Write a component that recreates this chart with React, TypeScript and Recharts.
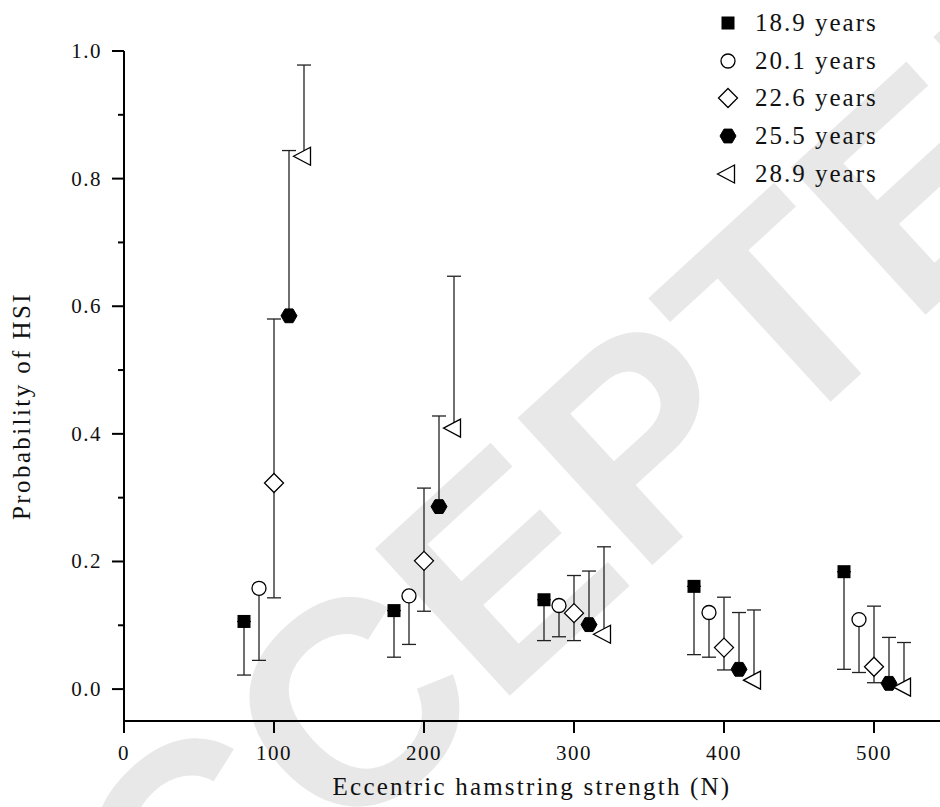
import React from 'react';
import { ScatterChart, Scatter, XAxis, YAxis, ErrorBar, Label, Legend } from 'recharts';

// ---- data ----
const seriesNames = ['18.9 years', '20.1 years', '22.6 years', '25.5 years', '28.9 years'];

const x189 = [80, 180, 280, 380, 480];
const y189 = [0.106, 0.123, 0.140, 0.161, 0.184];
const lo189 = [0.022, 0.050, 0.076, 0.054, 0.031];
const hi189 = [0.106, 0.123, 0.140, 0.161, 0.184];

const x201 = [90, 190, 290, 390, 490];
const y201 = [0.158, 0.146, 0.131, 0.120, 0.109];
const lo201 = [0.045, 0.070, 0.082, 0.050, 0.026];
const hi201 = [0.158, 0.146, 0.131, 0.120, 0.109];

const x226 = [100, 200, 300, 400, 500];
const y226 = [0.323, 0.201, 0.119, 0.065, 0.035];
const lo226 = [0.143, 0.122, 0.076, 0.030, 0.010];
const hi226 = [0.580, 0.315, 0.178, 0.144, 0.130];

const x255 = [110, 210, 310, 410, 510];
const y255 = [0.585, 0.286, 0.101, 0.031, 0.009];
const lo255 = [0.585, 0.286, 0.101, 0.031, 0.009];
const hi255 = [0.844, 0.428, 0.185, 0.120, 0.081];

const x289 = [120, 220, 320, 420, 520];
const y289 = [0.835, 0.409, 0.086, 0.014, 0.003];
const lo289 = [0.835, 0.409, 0.086, 0.014, 0.003];
const hi289 = [0.978, 0.647, 0.223, 0.124, 0.073];

const xTicks = [0, 100, 200, 300, 400, 500];
const yTicks = [0, 0.1, 0.2, 0.3, 0.4, 0.5, 0.6, 0.7, 0.8, 0.9, 1.0];

type Pt = { x: number; y: number; err: [number, number] };
const build = (xs: number[], ys: number[], lo: number[], hi: number[]): Pt[] =>
  xs.map((x, i) => ({ x, y: ys[i], err: [ys[i] - lo[i], hi[i] - ys[i]] as [number, number] }));

const d189 = build(x189, y189, lo189, hi189);
const d201 = build(x201, y201, lo201, hi201);
const d226 = build(x226, y226, lo226, hi226);
const d255 = build(x255, y255, lo255, hi255);
const d289 = build(x289, y289, lo289, hi289);

const FONT = '"Liberation Serif", "Times New Roman", serif';

// ---- marker shapes ----
const SquareShape = (p: any) => (
  <rect x={p.cx - 6.5} y={p.cy - 6.5} width={13} height={13} fill="#000" />
);
const CircleShape = (p: any) => (
  <circle cx={p.cx} cy={p.cy} r={7} fill="#fff" stroke="#000" strokeWidth={1.3} />
);
const DiamondShape = (p: any) => {
  const { cx, cy } = p;
  const r = 9.5;
  return (
    <polygon
      points={`${cx},${cy - r} ${cx + r},${cy} ${cx},${cy + r} ${cx - r},${cy}`}
      fill="#fff"
      stroke="#000"
      strokeWidth={1.3}
    />
  );
};
const HexShape = (p: any) => {
  const { cx, cy } = p;
  const r = 8;
  const h = 6.9;
  return (
    <polygon
      points={`${cx - r},${cy} ${cx - r / 2},${cy - h} ${cx + r / 2},${cy - h} ${cx + r},${cy} ${cx + r / 2},${cy + h} ${cx - r / 2},${cy + h}`}
      fill="#000"
      stroke="#000"
      strokeWidth={1}
    />
  );
};
const TriShape = (p: any) => {
  const { cx, cy } = p;
  return (
    <polygon
      points={`${cx - 10.5},${cy} ${cx + 6.5},${cy - 9} ${cx + 6.5},${cy + 9}`}
      fill="#fff"
      stroke="#000"
      strokeWidth={1.3}
    />
  );
};

const shapes = [SquareShape, CircleShape, DiamondShape, HexShape, TriShape];

const YTick = (props: any) => {
  const { x, y, payload } = props;
  const v = payload.value as number;
  const major = Math.round(v * 10) % 2 === 0;
  const axisX = x + 16;
  return (
    <g>
      <line x1={axisX - (major ? 12 : 6)} y1={y} x2={axisX} y2={y} stroke="#000" strokeWidth={2} />
      {major && (
        <text
          x={axisX - 22}
          y={y}
          textAnchor="end"
          dominantBaseline="central"
          fontFamily={FONT}
          fontSize={21}
          letterSpacing={1.5}
          fill="#111"
        >
          {v.toFixed(1)}
        </text>
      )}
    </g>
  );
};

const XTick = (props: any) => {
  const { x, y, payload } = props;
  return (
    <text
      x={x}
      y={y}
      dy="0.71em"
      textAnchor="middle"
      fontFamily={FONT}
      fontSize={21}
      letterSpacing={1.5}
      fill="#111"
    >
      {payload.value}
    </text>
  );
};

const LegendContent = () => (
  <div style={{ fontFamily: FONT, fontSize: 25, letterSpacing: 2, color: '#111' }}>
    {seriesNames.map((name, i) => {
      const Shape = shapes[i];
      return (
        <div key={name} style={{ display: 'flex', alignItems: 'center', height: 37.8 }}>
          <svg width={30} height={30} style={{ display: 'block' }}>
            <Shape cx={15} cy={15} />
          </svg>
          <span style={{ marginLeft: 12, lineHeight: '30px' }}>{name}</span>
        </div>
      );
    })}
  </div>
);

const wmLetters = ['A', 'C', 'C', 'E', 'P', 'T', 'E', 'D'];

const Watermark = () => (
  <svg width={940} height={807} style={{ position: 'absolute', left: 0, top: 0 }}>
    <g transform="translate(552 520) rotate(-42.5)">
      <text
        x={0}
        y={0}
        textAnchor="middle"
        dominantBaseline="central"
        fontFamily='"Liberation Sans", Arial, sans-serif'
        fontWeight="bold"
        fontSize={290}
        fill="#e8e8e8"
      >
        {wmLetters.join('')}
      </text>
    </g>
  </svg>
);

export default function App() {
  const all = [d189, d201, d226, d255, d289];
  return (
    <div style={{ position: 'absolute', left: 0, top: 0, width: 940, height: 807, background: '#fff', overflow: 'hidden' }}>
      <Watermark />
      <div style={{ position: 'absolute', left: 0, top: 0 }}>
        <ScatterChart width={940} height={807} margin={{ top: 51, right: 0, bottom: 0, left: 0 }}>
          <XAxis
            type="number"
            dataKey="x"
            domain={[0, 544]}
            ticks={xTicks}
            allowDataOverflow
            height={86}
            stroke="#000"
            strokeWidth={2}
            tickSize={12}
            tickMargin={12}
            tick={<XTick />}
            tickLine={{ stroke: '#000', strokeWidth: 2 }}
          >
            <Label
              content={(p: any) => {
                const vb = p.viewBox;
                return (
                  <text
                    x={vb.x + vb.width / 2}
                    y={vb.y + 74}
                    textAnchor="middle"
                    fontFamily={FONT}
                    fontSize={25}
                    letterSpacing={2.2}
                    fill="#111"
                  >
                    Eccentric hamstring strength (N)
                  </text>
                );
              }}
            />
          </XAxis>
          <YAxis
            type="number"
            dataKey="y"
            domain={[-0.05, 1.0]}
            ticks={yTicks}
            allowDataOverflow
            width={124}
            stroke="#000"
            strokeWidth={2}
            tickSize={10}
            tickMargin={6}
            tickLine={false}
            tick={<YTick />}
            interval={0}
          >
            <Label
              content={(p: any) => {
                const vb = p.viewBox;
                const cx = vb.x + 30;
                const cy = vb.y + vb.height / 2 + 20;
                return (
                  <text
                    x={cx}
                    y={cy}
                    transform={`rotate(-90 ${cx} ${cy})`}
                    textAnchor="middle"
                    fontFamily={FONT}
                    fontSize={25}
                    letterSpacing={2.4}
                    fill="#111"
                  >
                    Probability of HSI
                  </text>
                );
              }}
            />
          </YAxis>
          <Legend
            layout="vertical"
            align="center"
            verticalAlign="middle"
            content={<LegendContent />}
            wrapperStyle={{ position: 'absolute', left: 713, top: 4, width: 200 }}
          />
          {all.map((d, i) => (
            <Scatter
              key={seriesNames[i]}
              name={seriesNames[i]}
              data={d}
              shape={shapes[i]}
              isAnimationActive={false}
            >
              <ErrorBar
                dataKey="err"
                direction="y"
                width={7}
                stroke="#222"
                strokeWidth={1.3}
                isAnimationActive={false}
              />
            </Scatter>
          ))}
        </ScatterChart>
      </div>
    </div>
  );
}
